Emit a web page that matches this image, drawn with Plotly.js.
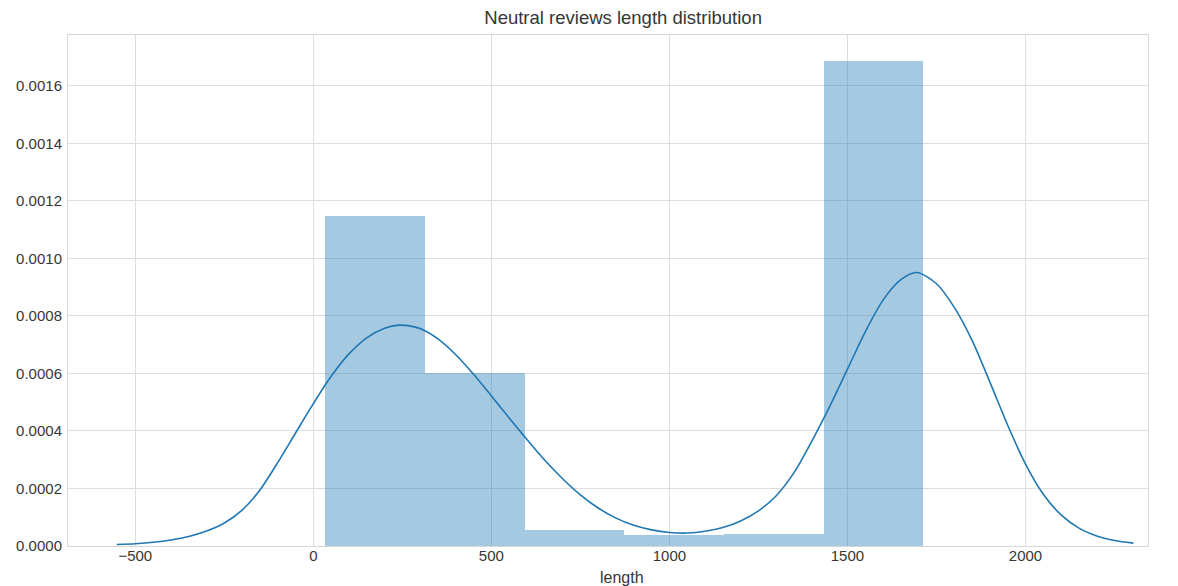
<!DOCTYPE html>
<html>
<head>
<meta charset="utf-8">
<script src="https://cdn.plot.ly/plotly-3.0.1.min.js"></script>
<style>html,body{margin:0;padding:0;background:#fff;}#chart{width:1178px;height:586px;}</style>
</head>
<body>
<div id="chart"></div>
<script>
// Histogram bins (length) and normalized heights (density)
const binLeft  = [33, 313, 593, 873, 1153, 1433];
const binRight = [313, 593, 873, 1153, 1433, 1713];
const binDensity = [0.001148, 0.000600, 0.000057, 0.000037, 0.000043, 0.001688];

// KDE curve
const kdeX = [-552, -500, -450, -400, -350, -300, -250, -200, -150, -100, -50, 0, 50, 100, 150, 200, 240, 280, 300, 350, 400, 450, 500, 550, 600, 650, 700, 750, 800, 850, 900, 950, 1000, 1050, 1100, 1150, 1200, 1250, 1300, 1350, 1400, 1450, 1500, 1550, 1600, 1650, 1695, 1750, 1800, 1850, 1900, 1950, 2000, 2050, 2100, 2150, 2200, 2250, 2303];
const kdeY = [0.000005, 0.000008, 0.000013, 0.000021, 0.000033, 0.000052, 0.000080, 0.000125, 0.000195, 0.000290, 0.000393, 0.000495, 0.000590, 0.000668, 0.000724, 0.000757, 0.000768, 0.000763, 0.000756, 0.000720, 0.000665, 0.000597, 0.000522, 0.000445, 0.000370, 0.000298, 0.000234, 0.000178, 0.000132, 0.000097, 0.000072, 0.000056, 0.000047, 0.000045, 0.000051, 0.000064, 0.000087, 0.000122, 0.000175, 0.000255, 0.000365, 0.000485, 0.000615, 0.000745, 0.000855, 0.000926, 0.000951, 0.000912, 0.000830, 0.000715, 0.000570, 0.000420, 0.000285, 0.000180, 0.000108, 0.000062, 0.000035, 0.000019, 0.000010];

const titleText = "Neutral reviews length distribution";
const xLabel = "length";

const FONT = "Liberation Sans, Arial, sans-serif";
const TXT = "#363636";

const bars = {
  type: "bar",
  x: binLeft,
  y: binDensity,
  width: binLeft.map((l, i) => binRight[i] - l),
  offset: 0,
  marker: {color: "rgba(31,119,180,0.4)", line: {width: 0}},
  showlegend: false
};

const kde = {
  type: "scatter",
  mode: "lines",
  x: kdeX,
  y: kdeY,
  line: {color: "#1f77b4", width: 1.6, shape: "spline", smoothing: 0.8},
  showlegend: false
};

const layout = {
  width: 1178,
  height: 586,
  margin: {l: 68, r: 30, t: 35, b: 40},
  paper_bgcolor: "#fff",
  plot_bgcolor: "#fff",
  font: {family: FONT, color: TXT, size: 15},
  title: {
    text: titleText,
    font: {family: FONT, size: 18.5, color: TXT},
    x: 0.514, xref: "paper", xanchor: "center",
    y: 1 - 18 / 586, yref: "container", yanchor: "middle"
  },
  bargap: 0,
  xaxis: {
    range: [-689, 2344],
    tickmode: "linear", tick0: 0, dtick: 500,
    showgrid: true, gridcolor: "#dedede", gridwidth: 1,
    zeroline: false,
    showline: true, mirror: true, linecolor: "#d6d6d6", linewidth: 1,
    ticks: "", ticklabelstandoff: -4,
    tickfont: {family: FONT, size: 15, color: TXT}
  },
  yaxis: {
    range: [0, 0.001777],
    tickmode: "linear", tick0: 0, dtick: 0.0002,
    tickformat: ".4f",
    showgrid: true, gridcolor: "#dedede", gridwidth: 1,
    zeroline: false,
    showline: true, mirror: true, linecolor: "#d6d6d6", linewidth: 1,
    ticks: "", ticklabelstandoff: 2,
    tickfont: {family: FONT, size: 15, color: TXT}
  },
  annotations: [{
    text: xLabel,
    xref: "paper", yref: "paper",
    x: 0.5125, y: -(577 - 546) / 511,
    xanchor: "center", yanchor: "middle",
    showarrow: false,
    font: {family: FONT, size: 16, color: TXT}
  }]
};

Plotly.newPlot("chart", [bars, kde], layout, {displayModeBar: false, staticPlot: true});
</script>
</body>
</html>
